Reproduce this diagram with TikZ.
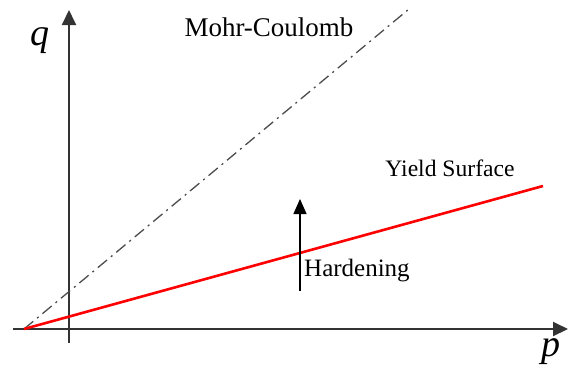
\documentclass[tikz,border=0pt]{standalone}
\usepackage{fontspec}
\setmainfont{Liberation Serif}
\usetikzlibrary{arrows.meta, positioning}

\begin{document}
\begin{tikzpicture}[
    x=1pt, y=-1pt,
    axis/.style={-{Triangle[length=15pt, width=14pt]}, line width=2pt, black!80},
    yield/.style={line width=2.6pt, red},
    mohr/.style={line width=1.3pt, black!70, dash pattern=on 12pt off 5pt on 2pt off 5pt},
    harden/.style={-{Triangle[length=15pt, width=13pt]}, line width=1.4pt},
    lbl/.style={inner sep=0pt, font=\fontsize{24}{28}\selectfont},
    axlbl/.style={inner sep=0pt, font=\fontsize{38}{40}\selectfont\itshape},
]
\useasboundingbox (0,0) rectangle (568,368);

% axes
\coordinate (xstart) at (13,329);
\coordinate (xend) at (568,329);
\coordinate (ystart) at (69,343);
\coordinate (yend) at (69,10);
\draw[axis] (xstart) -- (xend);
\draw[axis] (ystart) -- (yend);
\node[axlbl] (qlbl) at (40,41) {q};
\node[axlbl] (plbl) at (551,352) {p};

% lines from the apex
\coordinate (apex) at (24,329);
\coordinate (mctop) at (409,9);
\coordinate (ysend) at (543,186);
\draw[mohr] (apex) -- (mctop);
\draw[yield] (apex) -- (ysend);
\node[lbl, font=\fontsize{27}{30}\selectfont] (mclbl) at (269,27) {Mohr-Coulomb};
\node[lbl, font=\fontsize{23.6}{28}\selectfont] (yslbl) at (450,168) {Yield Surface};

% hardening
\coordinate (hbot) at (300,291);
\coordinate (htop) at (300,199);
\draw[harden] (hbot) -- (htop);
\node[lbl, font=\fontsize{25}{28}\selectfont, anchor=west] (hlbl) at (304,271) {Hardening};

\end{tikzpicture}
\end{document}
